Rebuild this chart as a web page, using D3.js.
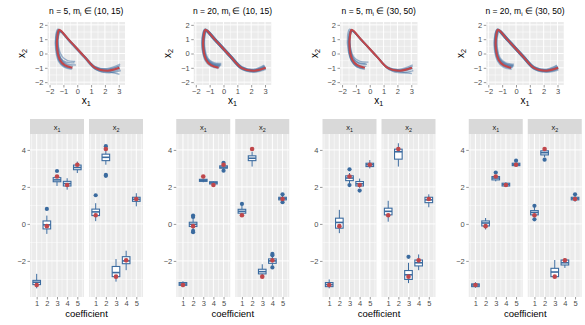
<!DOCTYPE html>
<html>
<head>
<meta charset="utf-8">
<script src="https://cdn.jsdelivr.net/npm/d3@7"></script>
<style>
  body { margin: 0; background: white; }
  svg { display: block; font-family: "Liberation Sans", Arial, sans-serif; }
</style>
</head>
<body>
<div id="chart"></div>
<script>
// panel titles: n and range of m_i
const panelN = [5, 20, 5, 20];
const panelM = ["(10, 15)", "(10, 15)", "(30, 50)", "(30, 50)"];

// true curve (red), points along the curve
const trueCurve = [[-0.35,-1.0],[-0.9,-0.82],[-1.25,-0.45],[-1.45,0.3],[-1.42,1.3],[-1.3,1.65],[-0.6,0.95],[0.5,-0.2],[1.3,-1.0],[2.2,-1.2],[3.05,-1.0]];

// estimated curves (blue), one array per panel
const est1 = [
  [[-0.2,-0.65],[-0.8,-0.6],[-1.2,-0.3],[-1.4,0.4],[-1.38,1.35],[-1.25,1.6],[-0.55,0.9],[0.55,-0.25],[1.35,-1.0],[2.2,-1.15],[3.1,-0.85]],
  [[-0.1,-0.8],[-0.75,-0.72],[-1.2,-0.4],[-1.42,0.3],[-1.4,1.3],[-1.28,1.55],[-0.6,0.85],[0.5,-0.3],[1.3,-1.1],[2.2,-1.3],[3.1,-1.1]],
  [[-0.4,-1.1],[-0.95,-0.95],[-1.35,-0.55],[-1.55,0.2],[-1.55,1.25],[-1.4,1.7],[-0.65,1.0],[0.45,-0.1],[1.25,-0.9],[2.1,-1.1],[3.0,-0.9]],
  [[-0.3,-0.9],[-0.85,-0.75],[-1.2,-0.35],[-1.38,0.35],[-1.35,1.25],[-1.2,1.5],[-0.5,0.8],[0.6,-0.35],[1.4,-1.15],[2.3,-1.35],[3.15,-1.2]],
  [[-0.5,-1.0],[-1.0,-0.85],[-1.3,-0.5],[-1.5,0.25],[-1.5,1.35],[-1.35,1.68],[-0.6,0.98],[0.5,-0.18],[1.3,-1.0],[2.2,-1.25],[3.05,-1.45]],
  [[-0.15,-0.55],[-0.7,-0.5],[-1.1,-0.2],[-1.35,0.45],[-1.35,1.35],[-1.25,1.55],[-0.55,0.88],[0.55,-0.22],[1.35,-0.95],[2.2,-1.05],[3.1,-0.75]],
  [[-0.35,-1.05],[-0.9,-0.9],[-1.3,-0.5],[-1.5,0.25],[-1.48,1.3],[-1.32,1.62],[-0.6,0.92],[0.5,-0.22],[1.3,-1.05],[2.2,-1.22],[3.05,-1.0]]
];
const est2 = [
  [[-0.2,-0.8],[-0.8,-0.7],[-1.2,-0.38],[-1.42,0.3],[-1.4,1.3],[-1.28,1.6],[-0.58,0.93],[0.52,-0.22],[1.32,-1.0],[2.2,-1.18],[3.0,-0.88]],
  [[-0.3,-0.95],[-0.88,-0.8],[-1.25,-0.45],[-1.45,0.3],[-1.43,1.3],[-1.3,1.64],[-0.6,0.95],[0.5,-0.2],[1.3,-1.02],[2.2,-1.22],[3.02,-1.02]],
  [[-0.25,-0.88],[-0.85,-0.75],[-1.22,-0.42],[-1.47,0.28],[-1.45,1.32],[-1.32,1.66],[-0.6,0.96],[0.5,-0.19],[1.3,-1.0],[2.2,-1.2],[3.0,-0.95]],
  [[-0.4,-1.0],[-0.92,-0.84],[-1.27,-0.47],[-1.48,0.3],[-1.44,1.3],[-1.3,1.63],[-0.6,0.94],[0.5,-0.21],[1.3,-1.03],[2.2,-1.25],[3.05,-1.05]],
  [[-0.15,-0.75],[-0.75,-0.68],[-1.18,-0.35],[-1.4,0.35],[-1.38,1.32],[-1.26,1.58],[-0.57,0.92],[0.52,-0.23],[1.33,-0.98],[2.2,-1.15],[2.95,-0.85]]
];
const est3 = [
  [[-0.1,-0.6],[-0.7,-0.55],[-1.15,-0.25],[-1.4,0.45],[-1.4,1.35],[-1.28,1.58],[-0.55,0.9],[0.55,-0.25],[1.35,-1.0],[2.2,-1.1],[3.1,-0.8]],
  [[-0.35,-1.1],[-0.9,-0.95],[-1.3,-0.55],[-1.55,0.2],[-1.6,1.25],[-1.45,1.7],[-0.65,1.0],[0.45,-0.12],[1.25,-0.92],[2.1,-1.15],[3.0,-0.95]],
  [[-0.2,-0.75],[-0.8,-0.68],[-1.2,-0.35],[-1.42,0.35],[-1.4,1.3],[-1.25,1.55],[-0.55,0.85],[0.6,-0.32],[1.4,-1.12],[2.3,-1.35],[3.15,-1.2]],
  [[-0.45,-1.05],[-1.0,-0.88],[-1.32,-0.5],[-1.5,0.25],[-1.48,1.35],[-1.35,1.67],[-0.6,0.97],[0.5,-0.2],[1.3,-1.0],[2.2,-1.28],[3.05,-1.4]],
  [[-0.25,-0.9],[-0.85,-0.8],[-1.22,-0.45],[-1.45,0.3],[-1.45,1.3],[-1.3,1.62],[-0.6,0.93],[0.5,-0.2],[1.3,-1.05],[2.2,-1.25],[3.1,-1.05]],
  [[-0.3,-0.7],[-0.85,-0.62],[-1.2,-0.3],[-1.4,0.4],[-1.42,1.4],[-1.3,1.6],[-0.58,0.9],[0.52,-0.25],[1.32,-1.0],[2.2,-1.18],[3.1,-0.9]],
  [[-0.4,-1.0],[-0.95,-0.85],[-1.3,-0.5],[-1.52,0.25],[-1.5,1.3],[-1.35,1.65],[-0.62,0.95],[0.48,-0.18],[1.28,-1.0],[2.15,-1.2],[3.0,-1.0]]
];
const est4 = [
  [[-0.2,-0.85],[-0.8,-0.72],[-1.2,-0.4],[-1.42,0.3],[-1.4,1.3],[-1.28,1.6],[-0.58,0.93],[0.52,-0.22],[1.32,-1.0],[2.2,-1.18],[3.0,-0.9]],
  [[-0.35,-1.0],[-0.9,-0.84],[-1.27,-0.47],[-1.47,0.3],[-1.44,1.3],[-1.3,1.64],[-0.6,0.95],[0.5,-0.2],[1.3,-1.02],[2.2,-1.23],[3.02,-1.05]],
  [[-0.2,-0.92],[-0.82,-0.78],[-1.22,-0.43],[-1.46,0.3],[-1.45,1.32],[-1.32,1.66],[-0.6,0.96],[0.5,-0.19],[1.3,-1.0],[2.2,-1.2],[3.05,-0.98]],
  [[-0.3,-1.05],[-0.9,-0.9],[-1.28,-0.5],[-1.5,0.28],[-1.46,1.3],[-1.32,1.62],[-0.6,0.94],[0.5,-0.21],[1.3,-1.03],[2.2,-1.25],[3.05,-1.1]],
  [[-0.15,-0.8],[-0.75,-0.7],[-1.18,-0.36],[-1.4,0.35],[-1.38,1.32],[-1.26,1.58],[-0.57,0.92],[0.52,-0.23],[1.33,-0.98],[2.2,-1.15],[2.98,-0.86]]
];
const estCurves = [est1, est2, est3, est4];

// coefficients
const coefs = [1, 2, 3, 4, 5];
const facets = ["x1", "x2"];
const trueX1 = [-3.3, -0.12, 2.56, 2.1, 3.2];
const trueX2 = [0.47, 4.05, -2.85, -1.97, 1.35];

// box stats: [facet, coef, lower, q1, median, q3, upper, outliers]
const box1 = [
  ["x1",1,-3.48,-3.28,-3.15,-3.05,-2.7,[]],
  ["x1",2,-0.54,-0.27,-0.05,0.16,0.45,[0.81]],
  ["x1",3,2.05,2.28,2.38,2.5,2.65,[2.86]],
  ["x1",4,1.85,2.05,2.18,2.3,2.47,[]],
  ["x1",5,2.75,2.93,3.05,3.18,3.37,[]],
  ["x2",1,0.15,0.45,0.65,0.8,1.12,[1.55]],
  ["x2",2,3.2,3.42,3.6,3.77,4.1,[2.65,2.6,4.2]],
  ["x2",3,-3.12,-2.85,-2.63,-2.3,-1.9,[]],
  ["x2",4,-2.5,-2.15,-2.0,-1.77,-1.45,[]],
  ["x2",5,0.95,1.22,1.33,1.44,1.66,[]]
];
const box2 = [
  ["x1",1,-3.42,-3.32,-3.25,-3.17,-3.1,[]],
  ["x1",2,-0.3,-0.14,-0.02,0.09,0.3,[0.45,0.38,-0.38,-0.45]],
  ["x1",3,2.25,2.3,2.35,2.41,2.45,[]],
  ["x1",4,2.1,2.16,2.22,2.28,2.32,[]],
  ["x1",5,2.95,3.01,3.07,3.14,3.25,[3.3,2.88]],
  ["x2",1,0.5,0.58,0.68,0.79,1.0,[1.08]],
  ["x2",2,3.1,3.42,3.55,3.68,3.9,[]],
  ["x2",3,-2.93,-2.7,-2.58,-2.45,-2.18,[]],
  ["x2",4,-2.25,-2.13,-2.0,-1.89,-1.75,[-1.62,-1.7,-2.35]],
  ["x2",5,1.2,1.3,1.37,1.44,1.55,[1.6,1.17]]
];
const box3 = [
  ["x1",1,-3.48,-3.39,-3.28,-3.17,-3.0,[]],
  ["x1",2,-0.5,-0.23,0.08,0.31,0.76,[]],
  ["x1",3,2.2,2.34,2.48,2.6,2.75,[2.95,2.1]],
  ["x1",4,1.95,2.05,2.17,2.29,2.45,[1.8]],
  ["x1",5,3.0,3.1,3.2,3.28,3.45,[]],
  ["x2",1,0.12,0.49,0.68,0.85,1.25,[]],
  ["x2",2,3.1,3.5,3.9,4.04,4.36,[]],
  ["x2",3,-3.2,-3.0,-2.75,-2.52,-2.1,[-1.78]],
  ["x2",4,-2.5,-2.27,-2.1,-1.95,-1.65,[]],
  ["x2",5,0.9,1.15,1.3,1.44,1.6,[]]
];
const box4 = [
  ["x1",1,-3.45,-3.39,-3.3,-3.24,-3.15,[]],
  ["x1",2,-0.3,-0.11,0.05,0.16,0.32,[]],
  ["x1",3,2.3,2.38,2.48,2.56,2.65,[2.78]],
  ["x1",4,2.0,2.05,2.13,2.2,2.25,[]],
  ["x1",5,3.1,3.15,3.22,3.28,3.3,[3.42]],
  ["x2",1,0.35,0.49,0.62,0.72,0.9,[0.98,0.25]],
  ["x2",2,3.6,3.73,3.85,3.95,4.0,[3.47]],
  ["x2",3,-2.9,-2.85,-2.6,-2.4,-1.95,[]],
  ["x2",4,-2.38,-2.22,-2.1,-1.95,-1.85,[]],
  ["x2",5,1.2,1.3,1.37,1.44,1.5,[1.6]]
];
const boxStats = [box1, box2, box3, box4];

const width = 585, height = 325, colW = width / 4;
const blue = "#3B6B9F", red = "#C0474B";
const panelBg = "#EBEBEB", stripBg = "#D9D9D9", tickCol = "#4D4D4D";

const fmt = v => v < 0 ? "\u2212" + (-v) : String(v);

const svg = d3.select("#chart").append("svg")
  .attr("width", width).attr("height", height);

// text with subscript, e.g. x₁
function subText(sel, base, sub, after) {
  sel.append("tspan").text(base);
  sel.append("tspan").attr("baseline-shift", "-30%").style("font-size", "0.72em").text(sub);
  if (after) sel.append("tspan").text(after);
}

const line = d3.line().curve(d3.curveCatmullRom.alpha(0.5));

// ---- top row: curves ----
panelN.forEach(function(n, i) {
  const g = svg.append("g").attr("transform", "translate(" + (i * colW) + ",0)");
  const x = d3.scaleLinear().domain([-2.15, 3.45]).range([47.5, 125]);
  const y = d3.scaleLinear().domain([-2.2, 2.2]).range([85, 22]);

  g.append("rect").attr("x", x.range()[0]).attr("y", y.range()[1])
    .attr("width", x.range()[1] - x.range()[0]).attr("height", y.range()[0] - y.range()[1])
    .attr("fill", panelBg);

  const xMinor = d3.range(-1.5, 3.5, 1), yMinor = d3.range(-1.5, 2, 1);
  const xMajor = d3.range(-2, 4), yMajor = d3.range(-2, 3);
  g.selectAll(".xmin").data(xMinor).enter().append("line")
    .attr("x1", d => x(d)).attr("x2", d => x(d)).attr("y1", y.range()[0]).attr("y2", y.range()[1])
    .attr("stroke", "white").attr("stroke-width", 0.5);
  g.selectAll(".ymin").data(yMinor).enter().append("line")
    .attr("y1", d => y(d)).attr("y2", d => y(d)).attr("x1", x.range()[0]).attr("x2", x.range()[1])
    .attr("stroke", "white").attr("stroke-width", 0.5);
  g.selectAll(".xmaj").data(xMajor).enter().append("line")
    .attr("x1", d => x(d)).attr("x2", d => x(d)).attr("y1", y.range()[0]).attr("y2", y.range()[1])
    .attr("stroke", "white").attr("stroke-width", 1);
  g.selectAll(".ymaj").data(yMajor).enter().append("line")
    .attr("y1", d => y(d)).attr("y2", d => y(d)).attr("x1", x.range()[0]).attr("x2", x.range()[1])
    .attr("stroke", "white").attr("stroke-width", 1);

  const clipId = "clipTop" + i;
  g.append("clipPath").attr("id", clipId).append("rect")
    .attr("x", x.range()[0]).attr("y", y.range()[1])
    .attr("width", x.range()[1] - x.range()[0]).attr("height", y.range()[0] - y.range()[1]);
  const cg = g.append("g").attr("clip-path", "url(#" + clipId + ")");

  line.x(d => x(d[0])).y(d => y(d[1]));
  cg.selectAll(".est").data(estCurves[i]).enter().append("path")
    .attr("d", line).attr("fill", "none")
    .attr("stroke", blue).attr("stroke-width", n === 20 ? 3 : 1.4)
    .attr("stroke-opacity", n === 20 ? 0.4 : 0.5);
  cg.append("path").datum(trueCurve).attr("d", line).attr("fill", "none")
    .attr("stroke", red).attr("stroke-width", 2.1).attr("stroke-linejoin", "round");

  // axes
  const xa = g.append("g").attr("transform", "translate(0," + y.range()[0] + ")")
    .call(d3.axisBottom(x).tickValues(xMajor).tickFormat(fmt).tickSize(2.5).tickPadding(1.5));
  const ya = g.append("g").attr("transform", "translate(" + x.range()[0] + ",0)")
    .call(d3.axisLeft(y).tickValues(yMajor).tickFormat(fmt).tickSize(2.5).tickPadding(1.5));
  [xa, ya].forEach(a => {
    a.select(".domain").remove();
    a.selectAll("line").attr("stroke", "#333333").attr("stroke-width", 0.5);
    a.selectAll("text").attr("fill", tickCol).style("font-size", "7.5px").style("font-family", "Liberation Sans, Arial, sans-serif");
  });

  g.append("text").attr("x", (x.range()[0] + x.range()[1]) / 2).attr("y", 104)
    .attr("text-anchor", "middle").style("font-size", "10px").attr("fill", "black")
    .call(s => subText(s, "x", "1"));
  g.append("text").attr("transform", "translate(25," + ((y.range()[0] + y.range()[1]) / 2) + ") rotate(-90)")
    .attr("text-anchor", "middle").style("font-size", "10px").attr("fill", "black")
    .call(s => subText(s, "x", "2"));
  g.append("text").attr("x", (x.range()[0] + x.range()[1]) / 2).attr("y", 14)
    .attr("text-anchor", "middle").style("font-size", "8.5px").attr("fill", "black")
    .call(s => subText(s, "n = " + n + ", m", "i", " \u2208 " + panelM[i]));
});

// ---- bottom row: boxplots ----
const by = d3.scaleLinear().domain([-3.95, 4.86]).range([297, 134]);
const facetLeft = { x1: 30, x2: 89 };
const facetW = 54;

boxStats.forEach(function(stats, i) {
  const g = svg.append("g").attr("transform", "translate(" + (i * colW) + ",0)");

  facets.forEach(function(f, fi) {
    const bx = d3.scaleLinear().domain([0.34, 5.66]).range([facetLeft[f], facetLeft[f] + facetW]);
    const fg = g.append("g");

    // strip
    fg.append("rect").attr("x", bx.range()[0]).attr("y", 119).attr("width", facetW).attr("height", 15)
      .attr("fill", stripBg);
    fg.append("text").attr("x", bx.range()[0] + facetW / 2).attr("y", 129.5)
      .attr("text-anchor", "middle").style("font-size", "7.5px").attr("fill", "#1A1A1A")
      .call(s => subText(s, "x", f.slice(1)));

    // panel
    fg.append("rect").attr("x", bx.range()[0]).attr("y", by.range()[1])
      .attr("width", facetW).attr("height", by.range()[0] - by.range()[1]).attr("fill", panelBg);
    const xMinor = d3.range(0.5, 6, 1), yMinor = [-3, -1, 1, 3];
    const yMajor = [-2, 0, 2, 4];
    fg.selectAll(".xmin").data(xMinor).enter().append("line")
      .attr("x1", d => bx(d)).attr("x2", d => bx(d)).attr("y1", by.range()[0]).attr("y2", by.range()[1])
      .attr("stroke", "white").attr("stroke-width", 0.5);
    fg.selectAll(".ymin").data(yMinor).enter().append("line")
      .attr("y1", d => by(d)).attr("y2", d => by(d)).attr("x1", bx.range()[0]).attr("x2", bx.range()[1])
      .attr("stroke", "white").attr("stroke-width", 0.5);
    fg.selectAll(".xmaj").data(coefs).enter().append("line")
      .attr("x1", d => bx(d)).attr("x2", d => bx(d)).attr("y1", by.range()[0]).attr("y2", by.range()[1])
      .attr("stroke", "white").attr("stroke-width", 1);
    fg.selectAll(".ymaj").data(yMajor).enter().append("line")
      .attr("y1", d => by(d)).attr("y2", d => by(d)).attr("x1", bx.range()[0]).attr("x2", bx.range()[1])
      .attr("stroke", "white").attr("stroke-width", 1);

    const rows = stats.filter(d => d[0] === f);
    const bw = bx(0.375) - bx(0);
    const bg = fg.selectAll(".box").data(rows).enter().append("g");
    bg.append("line").attr("x1", d => bx(d[1])).attr("x2", d => bx(d[1]))
      .attr("y1", d => by(d[2])).attr("y2", d => by(d[3])).attr("stroke", blue).attr("stroke-width", 1);
    bg.append("line").attr("x1", d => bx(d[1])).attr("x2", d => bx(d[1]))
      .attr("y1", d => by(d[5])).attr("y2", d => by(d[6])).attr("stroke", blue).attr("stroke-width", 1);
    bg.append("rect").attr("x", d => bx(d[1]) - bw).attr("width", 2 * bw)
      .attr("y", d => by(d[5])).attr("height", d => by(d[3]) - by(d[5]))
      .attr("fill", "white").attr("stroke", blue).attr("stroke-width", 1.1);
    bg.append("line").attr("x1", d => bx(d[1]) - bw).attr("x2", d => bx(d[1]) + bw)
      .attr("y1", d => by(d[4])).attr("y2", d => by(d[4])).attr("stroke", blue).attr("stroke-width", 1.6);
    bg.selectAll(".out").data(d => d[7].map(v => [d[1], v])).enter().append("circle")
      .attr("cx", d => bx(d[0])).attr("cy", d => by(d[1])).attr("r", 2.1).attr("fill", blue);

    const truth = f === "x1" ? trueX1 : trueX2;
    fg.selectAll(".truth").data(truth).enter().append("circle")
      .attr("cx", (d, k) => bx(coefs[k])).attr("cy", d => by(d)).attr("r", 2.3).attr("fill", red);

    // x axis
    const xa = fg.append("g").attr("transform", "translate(0," + by.range()[0] + ")")
      .call(d3.axisBottom(bx).tickValues(coefs).tickFormat(d3.format("d")).tickSize(2.5).tickPadding(1.5));
    xa.select(".domain").remove();
    xa.selectAll("line").attr("stroke", "#333333").attr("stroke-width", 0.5);
    xa.selectAll("text").attr("fill", tickCol).style("font-size", "7.5px").style("font-family", "Liberation Sans, Arial, sans-serif");

    if (fi === 0) {
      const ya = fg.append("g").attr("transform", "translate(" + bx.range()[0] + ",0)")
        .call(d3.axisLeft(by).tickValues(yMajor).tickFormat(fmt).tickSize(2.5).tickPadding(1.5));
      ya.select(".domain").remove();
      ya.selectAll("line").attr("stroke", "#333333").attr("stroke-width", 0.5);
      ya.selectAll("text").attr("fill", tickCol).style("font-size", "7.5px").style("font-family", "Liberation Sans, Arial, sans-serif");
    }
  });

  g.append("text").attr("x", (facetLeft.x1 + facetLeft.x2 + facetW) / 2).attr("y", 317)
    .attr("text-anchor", "middle").style("font-size", "9.5px").attr("fill", "black")
    .text("coefficient");
});
</script>
</body>
</html>
